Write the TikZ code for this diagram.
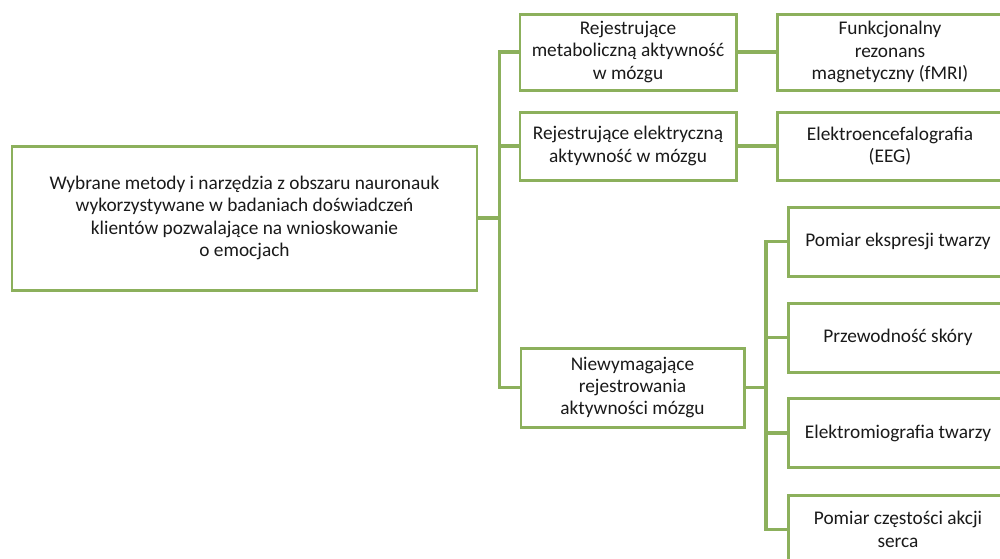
\documentclass[tikz,border=0pt]{standalone}
\usepackage{fontspec}
\setmainfont{Carlito}
\usepackage{tikz}
\usetikzlibrary{positioning}
\definecolor{leafgreen}{HTML}{8CB05C}
\definecolor{inkblack}{HTML}{1A1A1A}

\begin{document}
\begin{tikzpicture}[
    mainbox/.style={rectangle, draw=leafgreen, fill=white, text=inkblack,
                    line width=1.7pt, minimum width=9.3cm, minimum height=2.88cm,
                    font=\fontsize{11}{12.7}\selectfont, align=center, inner sep=2pt},
    groupbox/.style={mainbox, minimum width=4.32cm, minimum height=1.52cm},
    methodbox/.style={mainbox, minimum width=4.4cm, minimum height=1.38cm},
    link/.style={draw=leafgreen, line width=2pt}
  ]
  \useasboundingbox (0,0) rectangle (20,-11.16);
  \clip (0,0) rectangle (20,-11.16);

  \node[mainbox] (root) at (4.89,-4.36) {Wybrane metody i narzędzia z obszaru nauronauk\\wykorzystywane w badaniach doświadczeń\\klientów pozwalające na wnioskowanie\\o emocjach};

  \node[groupbox] (metab) at (12.56,-1.04) {Rejestrujące\\metaboliczną aktywność\\w mózgu};
  \node[groupbox, minimum height=1.36cm] (elec) at (12.56,-2.92) {Rejestrujące elektryczną\\aktywność w mózgu};
  \node[groupbox, minimum width=4.46cm, minimum height=1.58cm] (nobrain) at (12.65,-7.75) {Niewymagające\\rejestrowania\\aktywności mózgu};

  \node[groupbox, minimum width=4.52cm] (fmri) at (17.8,-1.04) {Funkcjonalny\\rezonans\\magnetyczny (fMRI)};
  \node[groupbox, minimum width=4.52cm, minimum height=1.36cm] (eeg) at (17.8,-2.92) {Elektroencefalografia\\(EEG)};

  \node[methodbox] (face) at (17.96,-4.83)  {Pomiar ekspresji twarzy};
  \node[methodbox] (skin) at (17.96,-6.75)  {Przewodność skóry};
  \node[methodbox] (emg)  at (17.96,-8.66)  {Elektromiografia twarzy};
  \node[methodbox] (heart) at (17.96,-10.59) {Pomiar częstości akcji\\serca};

  \coordinate (trunk) at (9.99,0);
  \coordinate (branch) at (15.32,0);

  \draw[link] (root.east) -- (root.east -| trunk);
  \draw[link] (metab.west) -| (trunk |- nobrain.west) -- (nobrain.west);
  \draw[link] (elec.west) -- (elec.west -| trunk);
  \draw[link] (metab) -- (fmri);
  \draw[link] (elec) -- (eeg);

  \draw[link] (nobrain.east) -- (nobrain.east -| branch);
  \draw[link] (face.west) -| (branch |- heart.west) -- (heart.west);
  \draw[link] (skin.west) -- (skin.west -| branch);
  \draw[link] (emg.west) -- (emg.west -| branch);
\end{tikzpicture}
\end{document}
